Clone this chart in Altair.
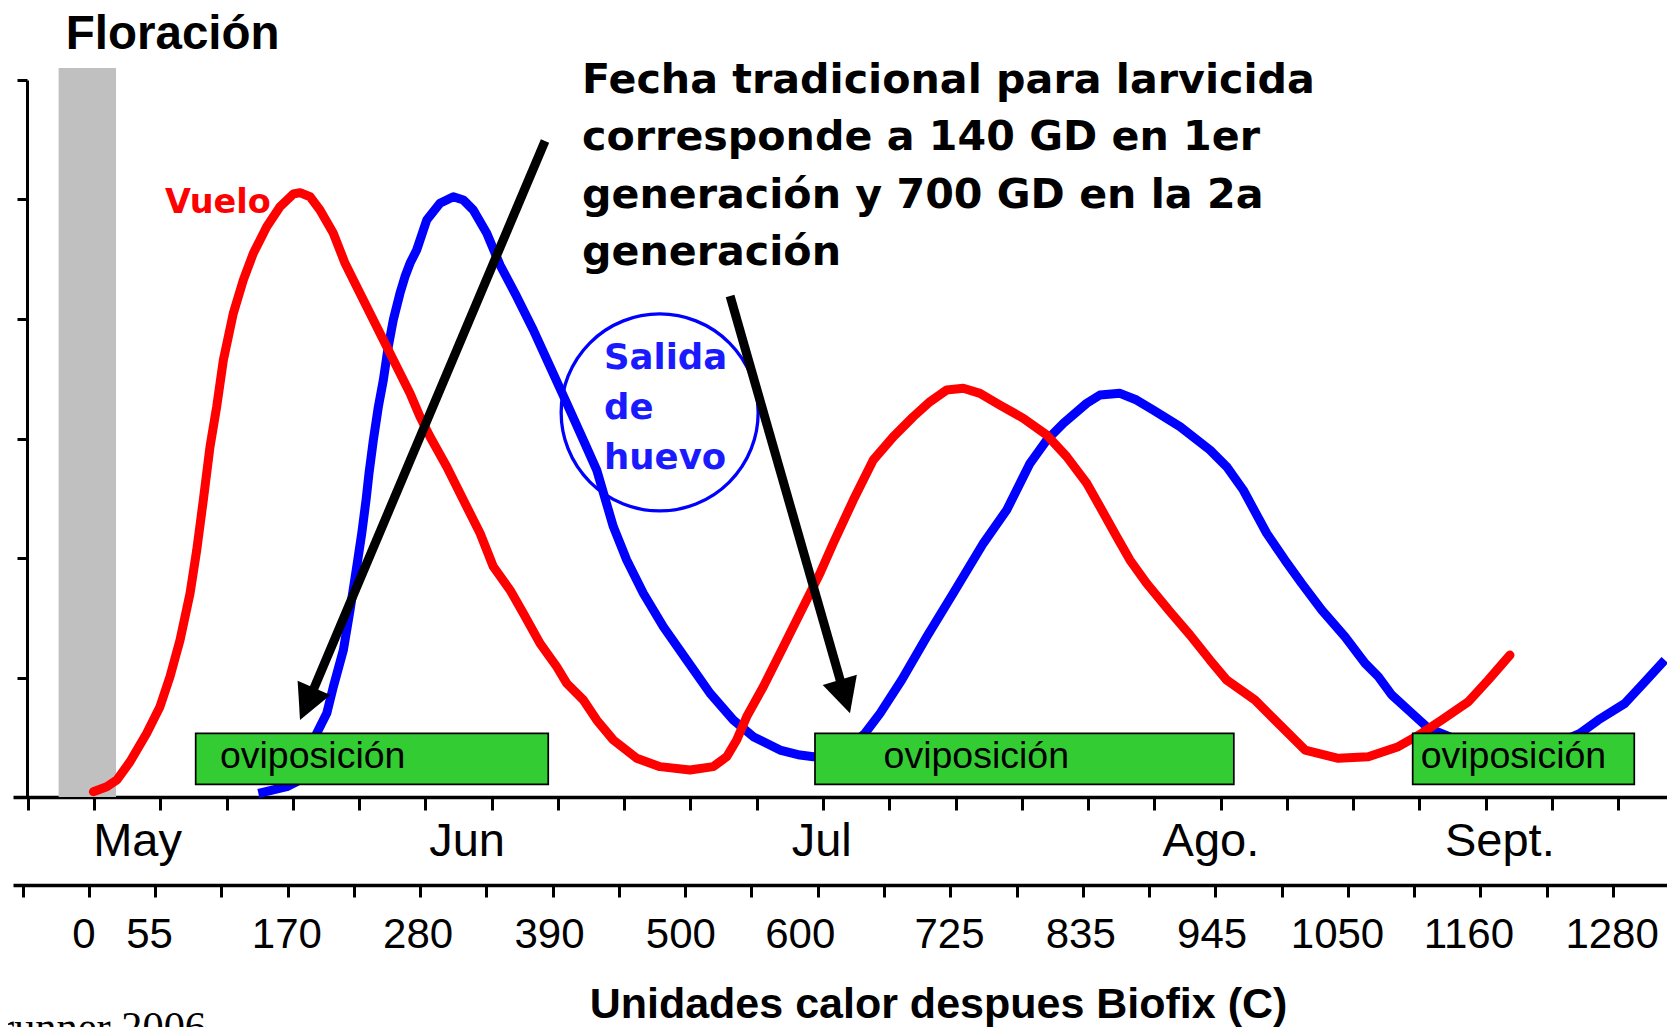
import altair as alt
import pandas as pd

# ---------------- values ----------------
# x: unidades calor (GD) despues de Biofix ; y: height on the drawing's 0-6 scale
vuelo_gd = [8.4, 19.6, 28.0, 39.1, 53.1, 64.2, 72.6, 81.0, 89.4, 95.0, 100.5, 106.1, 111.7,
            117.3, 125.6, 134.0, 142.4, 153.6, 164.7, 175.9, 181.5, 189.9, 198.2, 209.4,
            219.2, 229.0, 240.1, 251.3, 262.5, 273.6, 282.0, 290.4, 304.4, 318.3, 332.3,
            343.4, 357.4, 368.5, 382.5, 396.5, 404.9, 418.8, 430.0, 443.9, 463.5, 483.0,
            508.1, 527.6, 538.9, 547.2, 555.6, 569.5, 586.3, 603.0, 617.0, 628.1, 644.9,
            661.6, 678.4, 695.1, 709.1, 723.1, 737.0, 751.0, 767.7, 787.3, 806.9, 823.6,
            840.4, 851.5, 865.5, 876.6, 890.6, 910.1, 926.9, 943.6, 957.6, 981.3, 998.0,
            1023.3, 1051.1, 1076.2, 1101.3, 1120.9, 1137.7, 1160.0, 1176.7, 1194.9]
vuelo_v = [0.044, 0.086, 0.142, 0.295, 0.533, 0.756, 1.007, 1.314, 1.705, 2.067, 2.485, 2.931,
           3.266, 3.657, 4.047, 4.326, 4.550, 4.772, 4.940, 5.046, 5.057, 5.023, 4.912, 4.717,
           4.466, 4.270, 4.048, 3.824, 3.601, 3.378, 3.182, 3.015, 2.764, 2.485, 2.207,
           1.927, 1.732, 1.537, 1.286, 1.090, 0.951, 0.812, 0.644, 0.477, 0.324, 0.254,
           0.226, 0.254, 0.337, 0.477, 0.672, 0.923, 1.258, 1.592, 1.872, 2.123, 2.485,
           2.820, 3.015, 3.182, 3.308, 3.406, 3.420, 3.378, 3.280, 3.169, 3.029, 2.848,
           2.625, 2.429, 2.178, 1.983, 1.788, 1.551, 1.356, 1.146, 0.979, 0.812, 0.644,
           0.393, 0.324, 0.337, 0.421, 0.533, 0.644, 0.797, 0.979, 1.188]

huevo_gd = [146.6, 159.1, 170.4, 178.7, 186.5, 195.5, 203.9, 209.4, 217.8, 223.4, 229.0,
            233.2, 236.8, 239.3, 242.9, 247.1, 251.3, 255.4, 259.6, 265.2, 269.4, 273.6,
            279.2, 287.6, 298.7, 309.9, 318.3, 326.6, 337.9, 349.0, 363.0, 376.9, 390.9,
            404.9, 418.8, 430.0, 436.9, 443.9, 455.1, 469.0, 485.8, 505.4, 524.9, 544.4,
            561.1, 583.5, 600.2, 611.4, 633.7, 654.7, 667.3, 685.4, 706.4, 728.6, 753.8,
            773.4, 792.9, 806.9, 820.8, 840.4, 851.5, 868.3, 882.2, 896.2, 918.5, 943.6,
            957.6, 971.5, 991.1, 1006.4, 1020.4, 1037.2, 1056.7, 1073.5, 1084.6, 1095.8,
            1109.7, 1126.5, 1161.3, 1203.2, 1236.7, 1253.5, 1268.8, 1291.2, 1307.9, 1324.6]
huevo_v = [0.031, 0.059, 0.086, 0.128, 0.310, 0.533, 0.700, 0.923, 1.230, 1.565, 1.927,
           2.207, 2.485, 2.711, 2.987, 3.266, 3.490, 3.768, 3.992, 4.215, 4.354, 4.466,
           4.577, 4.828, 4.968, 5.023, 4.996, 4.912, 4.717, 4.452, 4.187, 3.908, 3.601,
           3.295, 2.987, 2.736, 2.500, 2.262, 1.983, 1.705, 1.425, 1.146, 0.868, 0.644,
           0.505, 0.393, 0.351, 0.337, 0.351, 0.533, 0.700, 0.979, 1.341, 1.705, 2.123,
           2.402, 2.792, 2.987, 3.127, 3.295, 3.364, 3.378, 3.322, 3.238, 3.099, 2.904,
           2.764, 2.569, 2.207, 1.983, 1.788, 1.565, 1.341, 1.119, 1.007, 0.854,
           0.728, 0.575, 0.435, 0.410, 0.460, 0.533, 0.644, 0.784, 0.965, 1.146]

floracion_gd = [-20.7, 27.4]
floracion_top = 6.10

ovip_start = [94.1, 612.8, 1113.4]
ovip_end = [389.4, 963.6, 1299.0]
ovip_low = 0.106
ovip_high = 0.533
ovip_text_gd = [114.4, 670.2, 1120.1]
ovip_text_v = 0.240
ovip_label = "oviposición"

month_names = ["May", "Jun", "Jul", "Ago.", "Sept."]
month_gd = [45, 321, 618, 944, 1186]
month_ticks = [round(9 + 55.5 * k, 1) for k in range(-1, 24)]
gd_labels = [0, 55, 170, 280, 390, 500, 600, 725, 835, 945, 1050, 1160, 1280]
gd_ticks = [round(-50.9 + 55.5 * k, 1) for k in range(0, 25)]
y_ticks = [0, 1, 2, 3, 4, 5, 6]

arrow_start_gd = [386.7, 541.7]
arrow_start_v = [5.490, 4.192]
arrow_end_gd = [190.8, 635.8]
arrow_end_v = [0.854, 0.912]
arrow_tip_gd = [181.5, 642.1]
arrow_tip_v = [0.644, 0.700]
arrow_angle = [23.5, 343.1]

circle_gd = 482.7
circle_v = 3.218

titulo = "Floración"
titulo_pos = (-14.7, 6.257)
vuelo_label = "Vuelo"
vuelo_pos = (68.4, 4.884)
fecha_lines = ["Fecha tradicional para larvicida", "corresponde a 140 GD en 1er",
               "generación y 700 GD en la 2a", "generación"]
fecha_pos = (417.7, 5.894)
salida_lines = ["Salida", "de", "huevo"]
salida_pos = (436.1, 3.579)
fuente = "Brunner 2006"
fuente_pos = (102.8, -2.042)
x_title = "Unidades calor despues Biofix (C)"

# ---------------- chart ----------------
xs = alt.Scale(domain=[-58.9, 1326.4], nice=False, zero=False)
ys = alt.Scale(domain=[0, 6], nice=False, zero=False)
NOX = alt.X("gd:Q", scale=xs, axis=None)
NOY = alt.Y("v:Q", scale=ys, axis=None)

month_expr = " : ".join(f"datum.value == {g} ? '{n}'" for g, n in zip(month_gd, month_names)) + " : ''"

ax_month_ticks = alt.Axis(orient="bottom", values=month_ticks, labels=False, ticks=True,
                          tickSize=13, tickWidth=3, tickColor="black", domain=True,
                          domainColor="black", domainWidth=3.3, grid=False, title=None, offset=0)
ax_month_labels = alt.Axis(orient="bottom", values=month_gd, labelExpr=month_expr, ticks=False,
                           tickSize=0, domain=False, grid=False, labelFont="Liberation Sans",
                           labelFontSize=47, labelColor="black", labelBaseline="alphabetic",
                           labelPadding=58, labelAngle=0, labelOverlap=False, labelFlush=False,
                           labelBound=False, title=None, offset=0)
ax_gd_ticks = alt.Axis(orient="bottom", values=gd_ticks, labels=False, ticks=True, tickSize=12,
                       tickWidth=3, tickColor="black", domain=True, domainColor="black",
                       domainWidth=3.3, grid=False, title=None, offset=88)
ax_gd_labels = alt.Axis(orient="bottom", values=gd_labels, format="d", ticks=False, tickSize=0,
                        domain=False, grid=False, labelFont="Liberation Sans", labelFontSize=42,
                        labelColor="black", labelBaseline="alphabetic", labelPadding=62,
                        labelAngle=0, labelOverlap=False, labelFlush=False, labelBound=False,
                        title=x_title, titleFont="Liberation Sans", titleFontSize=43,
                        titleFontWeight="bold", titleColor="black", titleX=925, titleY=132,
                        titleAlign="center", titleBaseline="alphabetic", titleAngle=0, offset=88)
ax_y = alt.Axis(orient="left", values=y_ticks, labels=False, ticks=True, tickSize=10,
                tickWidth=3, tickColor="black", domain=True, domainColor="black",
                domainWidth=3, grid=False, title=None, offset=-14)

band_df = pd.DataFrame({"x0": [floracion_gd[0]], "x1": [floracion_gd[1]],
                        "y0": [0], "y1": [floracion_top]})
band = alt.Chart(band_df).mark_rect(color="#C0C0C0").encode(
    x=alt.X("x0:Q", scale=xs, axis=ax_month_ticks), x2="x1:Q",
    y=alt.Y("y0:Q", scale=ys, axis=ax_y), y2="y1:Q")

huevo = alt.Chart(pd.DataFrame({"gd": huevo_gd, "v": huevo_v})).mark_line(
    color="#0000FF", strokeWidth=9, strokeJoin="round", strokeCap="butt").encode(
    x=alt.X("gd:Q", scale=xs, axis=ax_gd_ticks), y=NOY)

vuelo = alt.Chart(pd.DataFrame({"gd": vuelo_gd, "v": vuelo_v})).mark_line(
    color="#FF0000", strokeWidth=9, strokeJoin="round", strokeCap="round").encode(
    x=alt.X("gd:Q", scale=xs, axis=ax_month_labels), y=NOY)

circle = alt.Chart(pd.DataFrame({"gd": [circle_gd], "v": [circle_v]})).mark_point(
    shape="circle", size=38809, filled=False, color="#0000FF", strokeWidth=3.3,
    opacity=1).encode(x=NOX, y=NOY)

arrows_df = pd.DataFrame({"gd": arrow_start_gd, "v": arrow_start_v, "gd2": arrow_end_gd,
                          "v2": arrow_end_v})
shafts = alt.Chart(arrows_df).mark_rule(color="black", strokeWidth=9, strokeCap="butt").encode(
    x=NOX, y=NOY, x2="gd2:Q", y2="v2:Q")
heads_df = pd.DataFrame({"gd": arrow_tip_gd, "v": arrow_tip_v, "ang": arrow_angle})
heads = alt.Chart(heads_df).mark_point(
    shape="M0,0L-0.51,-1L0.51,-1Z", size=4900, filled=True, color="black", opacity=1,
    strokeWidth=0).encode(x=NOX, y=NOY, angle=alt.Angle("ang:Q", scale=None))

boxes_df = pd.DataFrame({"x0": ovip_start, "x1": ovip_end, "y0": [ovip_low] * 3,
                         "y1": [ovip_high] * 3})
boxes = alt.Chart(boxes_df).mark_rect(fill="#33CC33", stroke="black", strokeWidth=1.7).encode(
    x=alt.X("x0:Q", scale=xs, axis=ax_gd_labels), x2="x1:Q",
    y=alt.Y("y0:Q", scale=ys, axis=None), y2="y1:Q")

box_text = alt.Chart(pd.DataFrame({"gd": ovip_text_gd, "v": [ovip_text_v] * 3})).mark_text(
    text=ovip_label, font="Liberation Sans", fontSize=37.5, color="black", align="left",
    baseline="alphabetic").encode(x=NOX, y=NOY)


def note(pos, text, **mark):
    return alt.Chart(pd.DataFrame({"gd": [pos[0]], "v": [pos[1]]})).mark_text(
        text=text, baseline="alphabetic", **mark).encode(x=NOX, y=NOY)


t_flor = note(titulo_pos, titulo, font="Liberation Sans", fontSize=47.5, fontWeight="bold",
              color="black", align="left")
t_vuelo = note(vuelo_pos, vuelo_label, font="DejaVu Sans", fontSize=33.5, fontWeight="bold",
               color="#FF0000", align="left")
t_fecha = note(fecha_pos, fecha_lines, font="DejaVu Sans", fontSize=41.2, fontWeight="bold",
               color="black", align="left", lineHeight=57.5)
t_salida = note(salida_pos, salida_lines, font="DejaVu Sans", fontSize=35.5, fontWeight="bold",
                color="#1A1AFF", align="left", lineHeight=50)
t_fuente = note(fuente_pos, fuente, font="Liberation Serif", fontSize=42.4, color="black",
                align="right")

chart = alt.layer(
    band, huevo, vuelo, circle, shafts, heads, boxes, box_text,
    t_flor, t_vuelo, t_fecha, t_salida, t_fuente
).resolve_axis(x="independent", y="independent").properties(
    width=1654, height=717,
    autosize=alt.AutoSizeParams(type="none"),
    padding={"left": 5, "top": 72, "right": 0, "bottom": 263},
).configure_view(stroke=None)

chart.save("out.html", embed_options={"renderer": "svg", "actions": False})
